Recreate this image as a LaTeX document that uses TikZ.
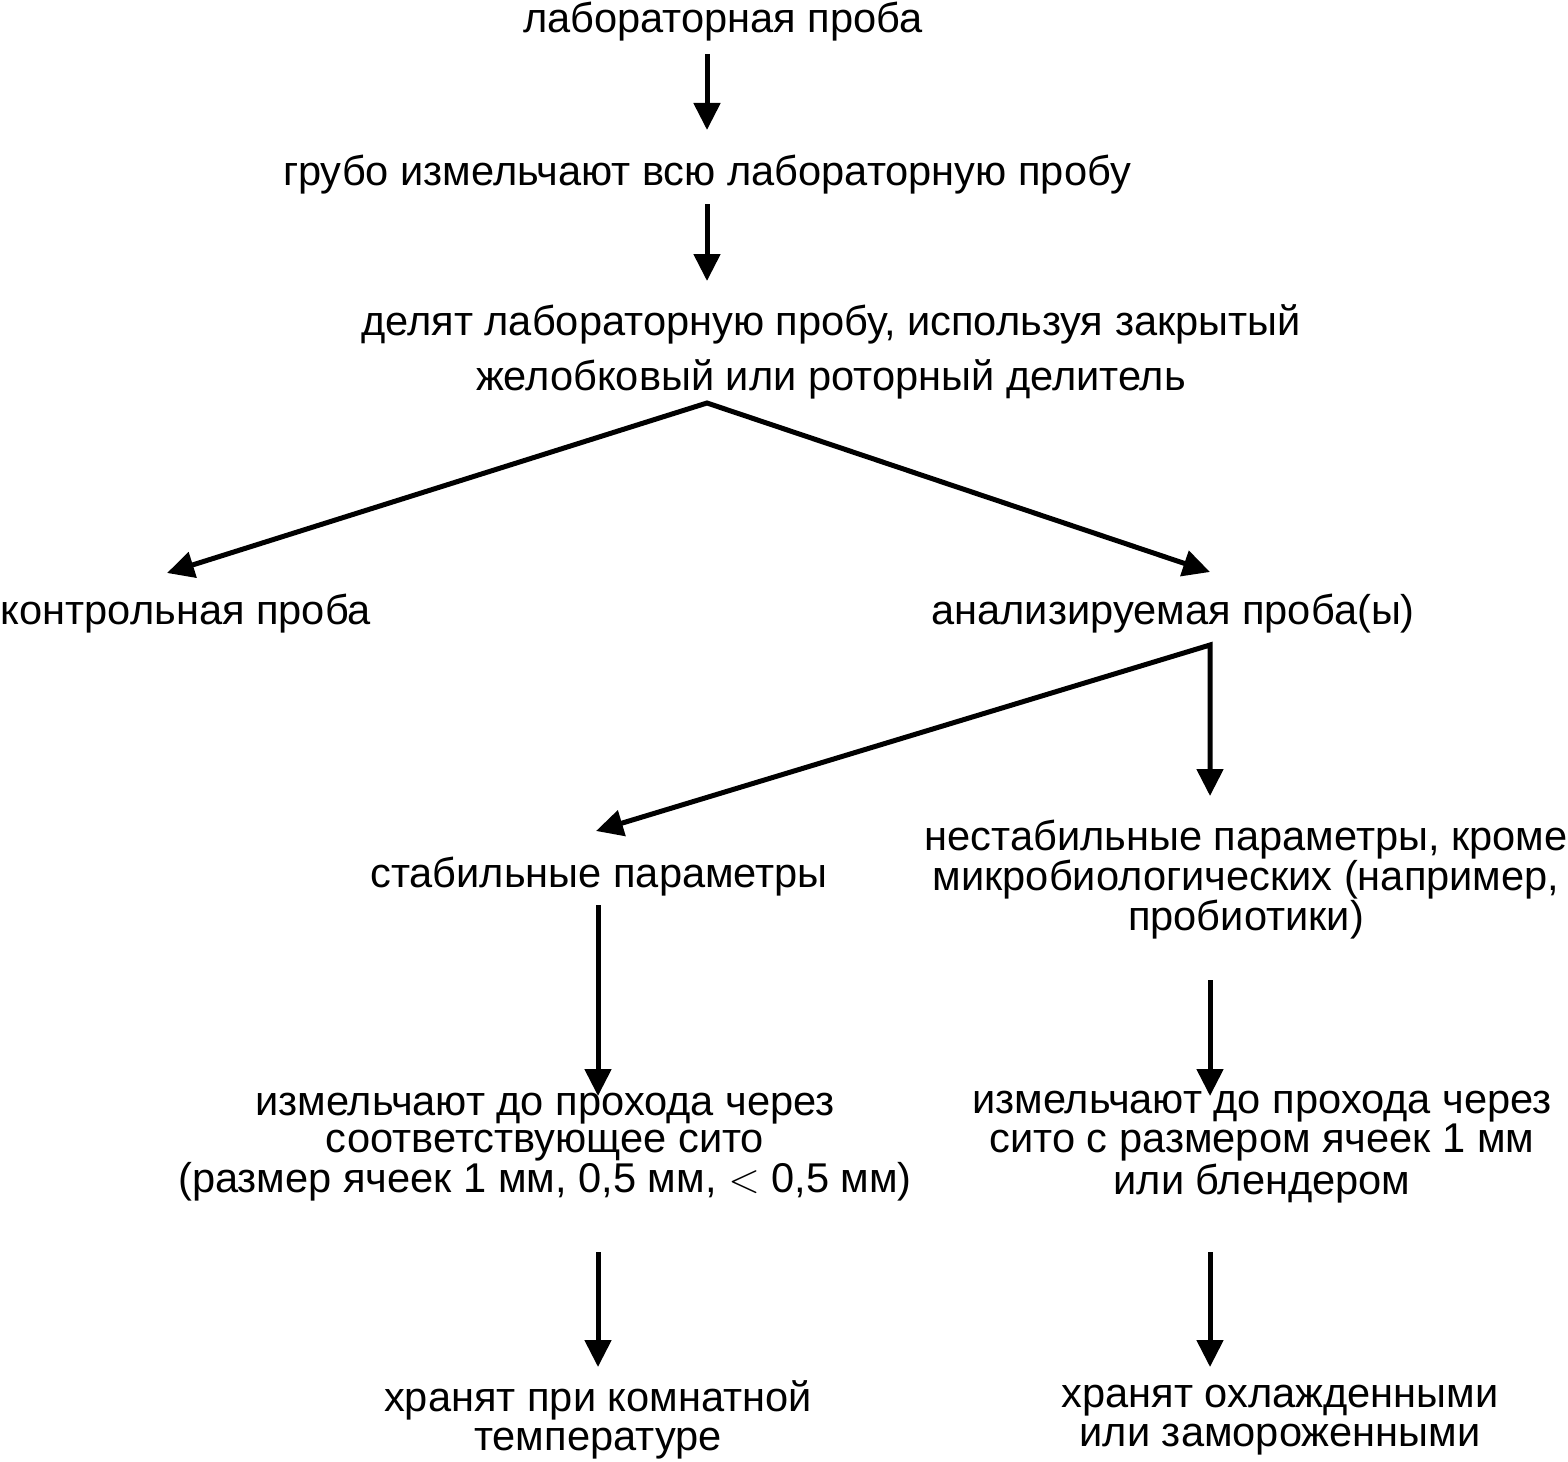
\documentclass[tikz,border=0pt]{standalone}
\usepackage{fontspec}
\setmainfont{Liberation Sans}
\usetikzlibrary{arrows.meta}
\begin{document}
\begin{tikzpicture}[x=0.5pt,y=-0.5pt,
  lbl/.style={inner sep=0pt,align=center,font=\fontsize{20.8pt}{20pt}\selectfont},
  arr/.style={line width=2.5pt,-{Triangle[length=13.5pt,width=13pt]}},
  arrb/.style={line width=2.5pt,{Triangle[length=13.5pt,width=13pt]}-{Triangle[length=13.5pt,width=13pt]}}]
\useasboundingbox (0,0) rectangle (1568,1461);
% nodes
\node[lbl] (n1) at (723,22) {лабораторная проба};
\node[lbl] (n2) at (707,175) {грубо измельчают всю лабораторную пробу};
\node[lbl,font=\fontsize{20.8pt}{27.5pt}\selectfont] (n3) at (831,352) {делят лабораторную пробу, используя закрытый\\желобковый или роторный делитель};
\node[lbl] (n4) at (186,614) {контрольная проба};
\node[lbl] (n5) at (1173,614) {анализируемая проба(ы)};
\node[lbl] (n6) at (599,877) {стабильные параметры};
\node[lbl] (n7) at (1246,880) {нестабильные параметры, кроме\\микробиологических (например,\\пробиотики)};
\node[lbl,font=\fontsize{20.8pt}{18.5pt}\selectfont] (n8) at (545,1147) {измельчают до прохода через\\соответствующее сито\\(размер ячеек 1 мм, 0,5 мм, $<$ 0,5 мм)};
\node[lbl,font=\fontsize{20.8pt}{18.5pt}\selectfont] (n9) at (1262,1147) {измельчают до прохода через\\сито с размером ячеек 1 мм\\или блендером};
\node[lbl,font=\fontsize{20.8pt}{19.5pt}\selectfont] (n10) at (598,1420) {хранят при комнатной\\температуре};
\node[lbl,font=\fontsize{20.8pt}{19.5pt}\selectfont] (n11) at (1280,1420) {хранят охлажденными\\или замороженными};
% connector end points
\coordinate (s1) at (707,54);   \coordinate (t1) at (707,130);
\coordinate (s2) at (707,204);  \coordinate (t2) at (707,281);
\coordinate (j1) at (707,403);
\coordinate (t3) at (167,573);  \coordinate (t4) at (1210,572);
\coordinate (j2) at (1210,645);
\coordinate (t5) at (596,831);  \coordinate (t6) at (1210,796);
\coordinate (s7) at (598,905);  \coordinate (t7) at (598,1096);
\coordinate (s8) at (1210,980); \coordinate (t8) at (1210,1096);
\coordinate (s9) at (598,1252); \coordinate (t9) at (598,1367);
\coordinate (s10) at (1210,1252); \coordinate (t10) at (1210,1367);
% connectors
\draw[arr] (s1) -- (t1);
\draw[arr] (s2) -- (t2);
\draw[arrb,line join=miter] (t3) -- (j1) -- (t4);
\draw[arrb,line join=miter] (t5) -- (j2) -- (t6);
\draw[arr] (s7) -- (t7);
\draw[arr] (s8) -- (t8);
\draw[arr] (s9) -- (t9);
\draw[arr] (s10) -- (t10);
\end{tikzpicture}
\end{document}
